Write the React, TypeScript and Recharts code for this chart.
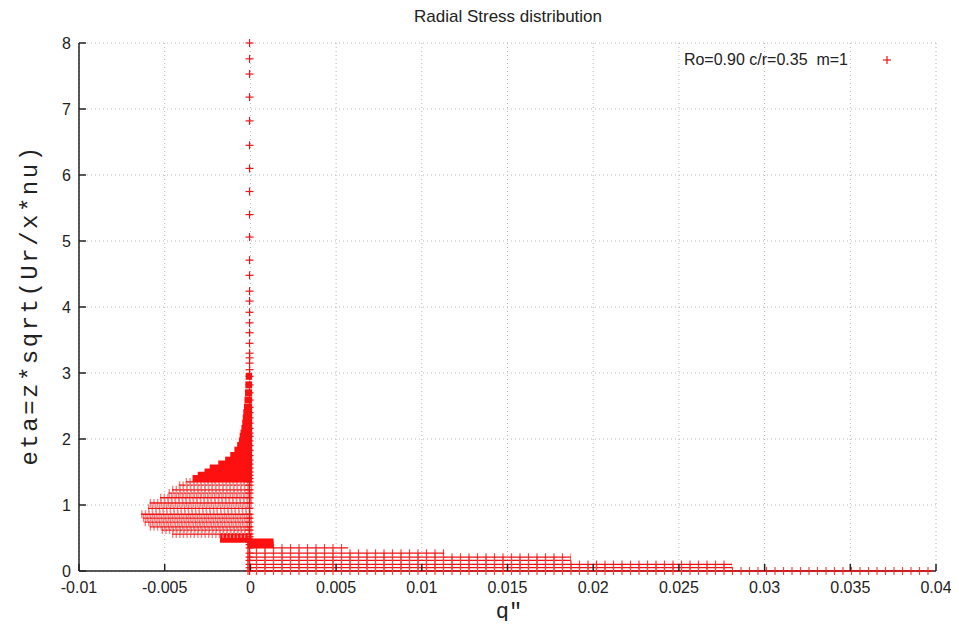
import React from "react";
import { ScatterChart, Scatter, XAxis, YAxis, CartesianGrid } from "recharts";

const xTicks = [-0.01, -0.005, 0, 0.005, 0.01, 0.015, 0.02, 0.025, 0.03, 0.035, 0.04];
const yTicks = [0, 1, 2, 3, 4, 5, 6, 7, 8];

// single points that stack up along q ~ 0
const columnEta = [
  0, 0.05, 0.1, 0.16, 0.21, 0.27, 0.35, 0.4, 0.44, 0.48, 0.52, 0.56, 0.62, 0.67, 0.74, 0.8,
  0.86, 0.95, 1.03, 1.11, 1.18, 1.23, 1.3, 1.35, 1.4, 1.45, 1.5, 1.56, 1.62, 1.68, 1.75, 1.83,
  1.9, 1.97, 2.04, 2.09, 2.16, 2.24, 2.32, 2.4, 2.48, 2.59, 2.7, 2.82, 2.95, 3.05, 3.15, 3.23,
  3.3, 3.45, 3.61, 3.76, 3.92, 4.09, 4.24, 4.48, 4.71, 5.06, 5.4, 5.75, 6.1, 6.45, 6.82, 7.18,
  7.53, 7.76, 8.0,
];
const columnQ = -0.00005;

// rows of negative q (spread over x stations)
const negRowEta = [
  0.48, 0.52, 0.56, 0.62, 0.67, 0.74, 0.8, 0.86, 0.95, 1.03, 1.11, 1.18, 1.23, 1.3, 1.35, 1.4,
  1.45, 1.5, 1.56, 1.62, 1.68, 1.75, 1.83, 1.9, 1.97, 2.04, 2.09, 2.16, 2.24, 2.32, 2.4, 2.48,
  2.59, 2.7, 2.82, 2.95,
];
const negRowMin = [
  -0.0016, -0.0016, -0.0044, -0.005, -0.0057, -0.006, -0.0061, -0.0062, -0.0058, -0.0057,
  -0.0051, -0.0046, -0.0044, -0.004, -0.0036, -0.0032, -0.0029, -0.0025, -0.0022, -0.0017,
  -0.0013, -0.001, -0.00076, -0.0006, -0.0005, -0.00045, -0.0004, -0.00035, -0.0003,
  -0.00027, -0.00024, -0.0002, -0.00017, -0.00014, -0.00012, -0.0001,
];
const negRowEnd = 0.0001;

// rows of positive q near the wall
const posRowEta = [0, 0.05, 0.1, 0.16, 0.21, 0.27, 0.35, 0.4, 0.44];
const posRowMax = [0.0398, 0.0281, 0.0281, 0.0187, 0.0187, 0.0113, 0.0057, 0.00135, 0.00135];

const rows = [
  ...negRowEta.map((eta, i) => ({ eta, from: negRowMin[i], to: negRowEnd, pos: false })),
  ...posRowEta.map((eta, i) => ({ eta, from: 0, to: posRowMax[i], pos: true })),
];

const RED = "#f01414";
const FONT = "'Liberation Sans', Arial, Helvetica, sans-serif";
const MONO = "'Liberation Mono', 'Courier New', monospace";

const TICK_MARGIN = 8;
const TICK_LEN = 7;

const noShape = () => <g />;

function Plus(props: any) {
  const { cx, cy } = props;
  if (cx == null || cy == null) return <g />;
  return (
    <g stroke={RED} strokeWidth={1.2}>
      <line x1={cx - 4} x2={cx + 4} y1={cy} y2={cy} />
      <line x1={cx} x2={cx} y1={cy - 4} y2={cy + 4} />
    </g>
  );
}

// a row of '+' markers: a thin horizontal line plus a comb of short vertical strokes
function rowLine(kind: "dense" | "neg" | "pos") {
  return (props: any) => {
    const pts = props.points || [];
    if (pts.length < 2) return <g />;
    const a = pts[0];
    const b = pts[pts.length - 1];
    const d = `M${a.x - 3},${a.y}L${b.x},${b.y}`;
    if (kind === "dense") {
      return <path d={d} fill="none" stroke="#ff1010" strokeWidth={7} />;
    }
    const dash = kind === "pos" ? "1.2 7.3" : "1.4 2.2";
    const comb = kind === "pos" ? "#f04848" : "#f48484";
    return (
      <g>
        <path d={d} fill="none" stroke={comb} strokeWidth={8} strokeDasharray={dash} />
        <path d={d} fill="none" stroke="#f01010" strokeWidth={1.3} />
      </g>
    );
  };
}

function BottomTick(props: any) {
  const { x, y, payload } = props;
  const y0 = y - TICK_MARGIN;
  return (
    <g>
      <line x1={x} x2={x} y1={y0} y2={y0 - TICK_LEN} stroke="#222" strokeWidth={1.5} />
      <text x={x} y={y} dy={14} textAnchor="middle" fontSize={16} fontFamily={FONT} fill="#222">
        {String(payload.value)}
      </text>
    </g>
  );
}

function TopTick(props: any) {
  const { x, y } = props;
  return <line x1={x} x2={x} y1={y} y2={y + TICK_LEN} stroke="#222" strokeWidth={1.5} />;
}

function LeftTick(props: any) {
  const { x, y, payload } = props;
  const x0 = x + TICK_MARGIN;
  return (
    <g>
      <line x1={x0} x2={x0 + TICK_LEN} y1={y} y2={y} stroke="#222" strokeWidth={1.5} />
      <text x={x} y={y} dy={6} textAnchor="end" fontSize={16} fontFamily={FONT} fill="#222">
        {String(payload.value)}
      </text>
    </g>
  );
}

function RightTick(props: any) {
  const { x, y } = props;
  return <line x1={x} x2={x - TICK_LEN} y1={y} y2={y} stroke="#222" strokeWidth={1.5} />;
}

export default function App() {
  const W = 943;
  const H = 613;
  return (
    <div style={{ position: "relative", width: W, height: H }}>
      <ScatterChart width={W} height={H} margin={{ top: 35, right: 15, left: 11, bottom: 10 }}>
        <CartesianGrid stroke="#b8b8b8" strokeDasharray="1 3" />
        <XAxis
          xAxisId={0}
          type="number"
          dataKey="q"
          domain={[-0.01, 0.04]}
          ticks={xTicks}
          height={40}
          tickSize={0}
          tickMargin={TICK_MARGIN}
          tickLine={false}
          tick={<BottomTick />}
          axisLine={{ stroke: "#222", strokeWidth: 1.5 }}
          allowDataOverflow
        />
        <XAxis
          xAxisId="top"
          orientation="top"
          type="number"
          dataKey="q"
          domain={[-0.01, 0.04]}
          ticks={xTicks}
          height={0}
          tickSize={0}
          tickMargin={0}
          tickLine={false}
          tick={<TopTick />}
          axisLine={{ stroke: "#222", strokeWidth: 1.5 }}
        />
        <YAxis
          yAxisId={0}
          type="number"
          dataKey="eta"
          domain={[0, 8]}
          ticks={yTicks}
          width={60}
          tickSize={0}
          tickMargin={TICK_MARGIN}
          tickLine={false}
          tick={<LeftTick />}
          axisLine={{ stroke: "#222", strokeWidth: 1.5 }}
        />
        <YAxis
          yAxisId="right"
          orientation="right"
          type="number"
          dataKey="eta"
          domain={[0, 8]}
          ticks={yTicks}
          width={0}
          tickSize={0}
          tickMargin={0}
          tickLine={false}
          tick={<RightTick />}
          axisLine={{ stroke: "#222", strokeWidth: 1.5 }}
        />
        {rows.map((r, i) => {
          const dense = r.pos ? r.to - r.from < 0.003 : r.eta >= 1.4 || r.to - r.from < 0.003;
          const kind = dense ? "dense" : r.pos ? "pos" : "neg";
          return (
            <Scatter
              key={"row" + i}
              data={[
                { q: r.from, eta: r.eta },
                { q: r.to, eta: r.eta },
              ]}
              fill={RED}
              shape={noShape}
              line={rowLine(kind)}
              isAnimationActive={false}
            />
          );
        })}
        <Scatter
          data={columnEta.map((eta) => ({ q: columnQ, eta }))}
          fill={RED}
          shape={<Plus />}
          isAnimationActive={false}
        />
      </ScatterChart>

      <div
        style={{
          position: "absolute",
          left: 500,
          top: 9,
          transform: "translate(-50%, -50%)",
          font: `17px ${FONT}`,
          color: "#222",
          whiteSpace: "nowrap",
        }}
      >
        Radial Stress distribution
      </div>
      <div
        style={{
          position: "absolute",
          right: W - 840,
          top: 43,
          font: `16px ${FONT}`,
          color: "#222",
          whiteSpace: "pre",
        }}
      >
        {"Ro=0.90 c/r=0.35  m=1"}
      </div>
      <svg style={{ position: "absolute", left: 873, top: 46 }} width={12} height={12}>
        <g stroke={RED} strokeWidth={1.2}>
          <line x1={2} x2={10} y1={6} y2={6} />
          <line x1={6} x2={6} y1={2} y2={10} />
        </g>
      </svg>
      <div
        style={{
          position: "absolute",
          left: 22,
          top: 297,
          transform: "translate(-50%, -50%) rotate(-90deg)",
          font: `24px ${MONO}`,
          letterSpacing: "2.5px",
          color: "#222",
          whiteSpace: "nowrap",
        }}
      >
        eta=z*sqrt(Ur/x*nu)
      </div>
      <div
        style={{
          position: "absolute",
          left: 501,
          top: 604,
          transform: "translate(-50%, -50%)",
          font: `22px ${MONO}`,
          color: "#222",
          whiteSpace: "nowrap",
        }}
      >
        q"
      </div>
    </div>
  );
}
